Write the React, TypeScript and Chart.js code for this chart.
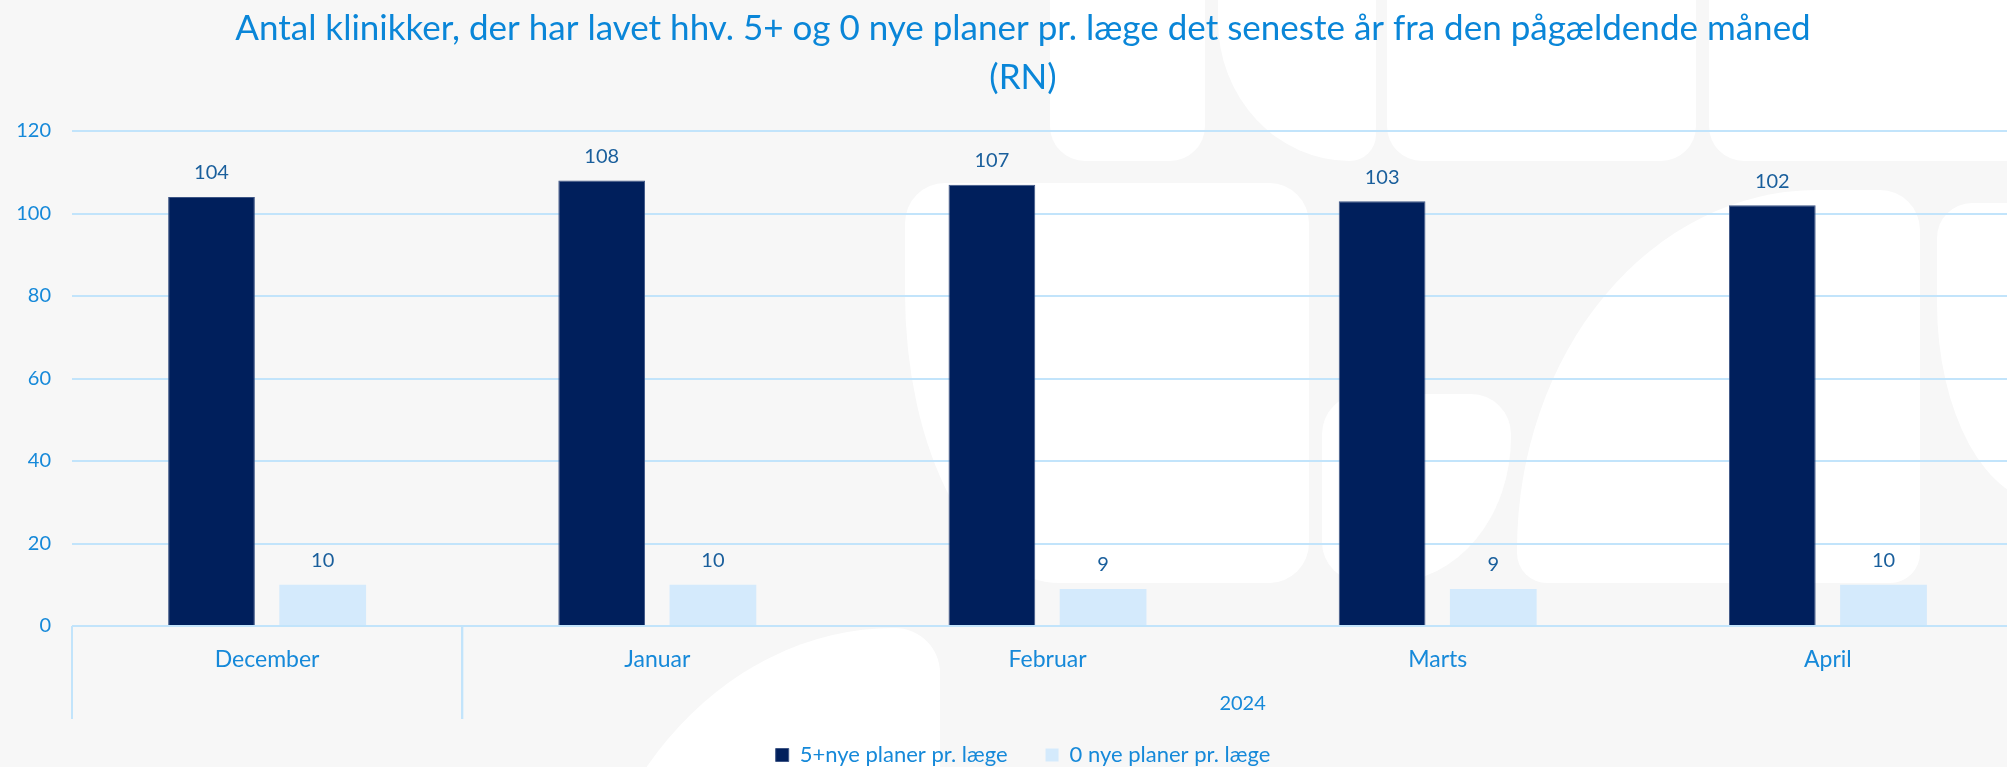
import React, { useEffect, useRef } from "react";
import { Chart, registerables } from "chart.js";

Chart.register(...registerables);

const titleLines = [
  "Antal klinikker, der har lavet hhv. 5+ og 0 nye planer pr. læge det seneste år fra den pågældende måned",
  "(RN)",
];
const months = ["December", "Januar", "Februar", "Marts", "April"];
const yearLabels = ["", "2024", "2024", "2024", "2024"];
const seriesNames = ["5+nye planer pr. læge", "0 nye planer pr. læge"];
const fivePlus = [104, 108, 107, 103, 102];
const zeroPlans = [10, 10, 9, 9, 10];
const yTicks = [0, 20, 40, 60, 80, 100, 120];

const FONT = "Lato, 'Open Sans', sans-serif";
const TITLE_COLOR = "#0a86d8";
const TICK_COLOR = "#1689d9";
const LABEL_COLOR = "#1a5f9c";
const GRID_COLOR = "#c2e4fb";
const DARK = "#001f5c";
const LIGHT = "#d4eafc";

// decorative watermark shapes of the page background (not data)
const watermark: React.CSSProperties[] = [
  { left: 905, top: 183, width: 404, height: 400, borderRadius: "40px 40px 40px 40px", borderBottomLeftRadius: "155px 290px" },
  { left: 1050, top: -40, width: 155, height: 201, borderRadius: "0 0 35px 35px" },
  { left: 1218, top: -40, width: 158, height: 201, borderRadius: "30px 0 30px 0", borderBottomLeftRadius: "150px 160px" },
  { left: 1387, top: -40, width: 309, height: 201, borderRadius: "0 0 35px 35px" },
  { left: 1709, top: -40, width: 360, height: 201, borderRadius: "0 0 0 35px" },
  { left: 1322, top: 394, width: 189, height: 188, borderRadius: "40px 40px 40px 40px", borderBottomRightRadius: "120px 145px" },
  { left: 1517, top: 190, width: 403, height: 393, borderRadius: "0 40px 30px 30px", borderTopLeftRadius: "300px 360px" },
  { left: 1937, top: 203, width: 120, height: 300, borderRadius: "35px 0 0 0", borderBottomLeftRadius: "110px 200px" },
  { left: 574, top: 628, width: 366, height: 400, borderRadius: "0 45px 0 0", borderTopLeftRadius: "320px 380px" },
];

const groupPlugin = {
  id: "groupPlugin",
  afterDraw(chart: any) {
    const ctx = chart.ctx;
    const x = chart.scales.x;
    const y = chart.scales.y;
    const n = months.length;
    const step = n > 1 ? x.getPixelForValue(1) - x.getPixelForValue(0) : x.width;
    const base = y.getPixelForValue(0);
    ctx.save();
    ctx.strokeStyle = GRID_COLOR;
    ctx.lineWidth = 2;
    let start = 0;
    const groups: { label: string; from: number; to: number }[] = [];
    for (let i = 1; i <= n; i++) {
      if (i === n || yearLabels[i] !== yearLabels[start]) {
        groups.push({ label: yearLabels[start], from: start, to: i - 1 });
        start = i;
      }
    }
    groups.forEach((g) => {
      const left = x.getPixelForValue(g.from) - step / 2;
      const right = x.getPixelForValue(g.to) + step / 2;
      [left, right].forEach((px) => {
        ctx.beginPath();
        ctx.moveTo(px, base);
        ctx.lineTo(px, base + 93);
        ctx.stroke();
      });
      if (g.label) {
        ctx.fillStyle = TICK_COLOR;
        ctx.font = `20px ${FONT}`;
        ctx.textAlign = "center";
        ctx.textBaseline = "middle";
        ctx.fillText(g.label, (left + right) / 2, base + 78);
      }
    });
    ctx.font = `20px ${FONT}`;
    ctx.fillStyle = LABEL_COLOR;
    ctx.textAlign = "center";
    ctx.textBaseline = "middle";
    chart.data.datasets.forEach((ds: any, di: number) => {
      const meta = chart.getDatasetMeta(di);
      meta.data.forEach((bar: any, i: number) => {
        ctx.fillText(String(ds.data[i]), bar.x, bar.y - 24);
      });
    });
    ctx.restore();
  },
};

export default function App() {
  const ref = useRef<HTMLCanvasElement>(null);
  useEffect(() => {
    if (!ref.current) return;
    const chart = new Chart(ref.current, {
      type: "bar",
      data: {
        labels: months,
        datasets: [
          {
            label: seriesNames[0],
            data: fivePlus,
            backgroundColor: DARK,
            borderColor: "#3d5585",
            borderWidth: 1,
            categoryPercentage: 0.57,
            barPercentage: 0.78,
          },
          {
            label: seriesNames[1],
            data: zeroPlans,
            backgroundColor: LIGHT,
            borderWidth: 0,
            categoryPercentage: 0.57,
            barPercentage: 0.78,
          },
        ],
      },
      options: {
        animation: false,
        responsive: true,
        maintainAspectRatio: false,
        layout: { padding: { left: 0, right: 0, top: 0, bottom: 0 } },
        plugins: {
          title: {
            display: true,
            text: titleLines,
            color: TITLE_COLOR,
            font: { family: FONT, size: 35, weight: "normal", lineHeight: 49 / 35 },
            padding: { top: 4, bottom: 29 },
          },
          legend: {
            position: "bottom",
            labels: {
              color: TICK_COLOR,
              font: { family: FONT, size: 22 },
              boxWidth: 13,
              boxHeight: 13,
              padding: 38,
            },
          },
          tooltip: { enabled: false },
        },
        scales: {
          x: {
            grid: { display: false },
            border: { display: false },
            ticks: {
              color: TICK_COLOR,
              font: { family: FONT, size: 23 },
              padding: 12,
            },
            afterFit: (scale: any) => {
              scale.height = 80;
            },
          },
          y: {
            min: 0,
            max: 120,
            afterBuildTicks: (scale: any) => {
              scale.ticks = yTicks.map((v) => ({ value: v }));
            },
            grid: { color: GRID_COLOR, lineWidth: 2, drawTicks: false },
            border: { display: false },
            ticks: {
              color: TICK_COLOR,
              font: { family: FONT, size: 20 },
              padding: 21,
            },
            afterFit: (scale: any) => {
              scale.width = 72;
            },
          },
          yRightSpace: {
            position: "right",
            min: 0,
            max: 120,
            grid: { display: false },
            border: { display: false },
            ticks: { display: false },
            afterFit: (scale: any) => {
              scale.width = 23;
            },
          },
        },
      },
      plugins: [groupPlugin],
    });
    return () => chart.destroy();
  }, []);
  return (
    <div
      style={{
        position: "fixed",
        left: 0,
        top: 0,
        width: 2007,
        height: 767,
        overflow: "hidden",
        background: "#f7f7f7",
      }}
    >
      {watermark.map((s, i) => (
        <div key={i} style={{ position: "absolute", background: "#ffffff", ...s }} />
      ))}
      <div style={{ position: "absolute", left: 0, top: 0, width: 2046, height: 776, zIndex: 1 }}>
        <canvas ref={ref} />
      </div>
    </div>
  );
}
